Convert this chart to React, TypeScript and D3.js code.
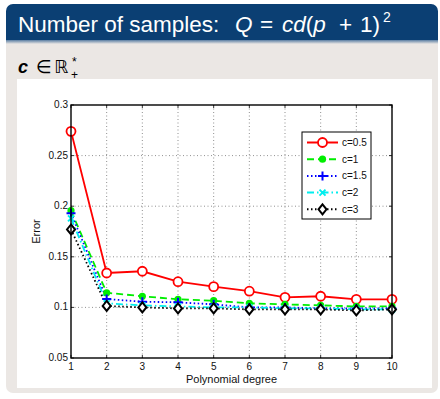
import React from "react";
import * as d3 from "d3";

const degrees = [1, 2, 3, 4, 5, 6, 7, 8, 9, 10];
const errC05 = [0.274, 0.134, 0.1357, 0.1254, 0.1205, 0.116, 0.110, 0.111, 0.108, 0.108];
const errC1 = [0.1956, 0.1145, 0.111, 0.108, 0.1066, 0.104, 0.103, 0.102, 0.101, 0.101];
const errC15 = [0.193, 0.1083, 0.1056, 0.105, 0.103, 0.1, 0.1, 0.099, 0.099, 0.099];
const errC2 = [0.188, 0.104, 0.102, 0.101, 0.1, 0.1, 0.099, 0.099, 0.098, 0.098];
const errC3 = [0.177, 0.1014, 0.1, 0.099, 0.099, 0.098, 0.098, 0.098, 0.097, 0.098];
const seriesNames = ["c=0.5", "c=1", "c=1.5", "c=2", "c=3"];
const yTicks = [0.05, 0.1, 0.15, 0.2, 0.25, 0.3];

const margin = { top: 105, right: 48, bottom: 41, left: 71 };
const W = 440;
const H = 399;

const styles = [
  { color: "#ff0000", dash: "", marker: "circle" },
  { color: "#00ee00", dash: "7,4", marker: "dot" },
  { color: "#0000ff", dash: "1.5,2.5", marker: "plus" },
  { color: "#00eeee", dash: "7,3,1.5,3", marker: "x" },
  { color: "#000000", dash: "1.5,2.5", marker: "diamond" },
];

function Marker({ kind, x, y, color }: { kind: string; x: number; y: number; color: string }) {
  if (kind === "circle")
    return <circle cx={x} cy={y} r={4.5} fill="white" stroke={color} strokeWidth={1.8} />;
  if (kind === "dot") return <circle cx={x} cy={y} r={3.6} fill={color} />;
  if (kind === "plus")
    return (
      <path d={`M${x - 4.5},${y}H${x + 4.5}M${x},${y - 4.5}V${y + 4.5}`} stroke={color} strokeWidth={2} />
    );
  if (kind === "x")
    return (
      <path d={`M${x - 3},${y - 3}L${x + 3},${y + 3}M${x - 3},${y + 3}L${x + 3},${y - 3}`} stroke={color} strokeWidth={2} />
    );
  return (
    <path d={`M${x},${y - 5}L${x + 4},${y}L${x},${y + 5}L${x - 4},${y}Z`} fill="white" stroke={color} strokeWidth={2} />
  );
}

export default function App() {
  const series = [errC05, errC1, errC15, errC2, errC3];
  const x = d3.scaleLinear().domain([1, 10]).range([margin.left, W - margin.right]);
  const y = d3.scaleLinear().domain([0.05, 0.3]).range([H - margin.bottom, margin.top]);
  const line = d3
    .line<number>()
    .x((_, i) => x(degrees[i]))
    .y((d) => y(d));
  const x0 = x(1), x1 = x(10), y0 = y(0.05), y1 = y(0.3);
  const font = "'Liberation Sans', Arial, sans-serif";
  const slideFont = "'Liberation Sans', 'DejaVu Sans', sans-serif";

  const legend = { x: 302, y: 132, w: 69, h: 87 };

  return (
    <svg width={W} height={H} style={{ position: "absolute", left: 0, top: 0 }}>
      <defs>
        <linearGradient id="shade" x1="0" y1="0" x2="0" y2="1">
          <stop offset="0" stopColor="#5a7ea3" />
          <stop offset="1" stopColor="#ebe7e4" />
        </linearGradient>
      </defs>
      <rect width={W} height={H} fill="white" />
      {/* gray block */}
      <rect x={6} y={30} width={432} height={363} rx={7} fill="#ebe7e4" />
      {/* title bar */}
      <path d="M6,40V11a7,7 0 0 1 7,-7H431a7,7 0 0 1 7,7V40Z" fill="#0b3f73" />
      <rect x={6} y={40} width={432} height={4} fill="url(#shade)" />
      <text y={32} fill="white" fontFamily={slideFont} fontSize={22.5}>
        <tspan x={18}>Number of samples:</tspan>
        <tspan x={235} fontStyle="italic">Q</tspan>
        <tspan x={260}>=</tspan>
        <tspan x={282} fontStyle="italic">cd</tspan>
        <tspan>(</tspan>
        <tspan fontStyle="italic">p</tspan>
        <tspan x={339}>+</tspan>
        <tspan x={360}>1)</tspan>
        <tspan x={383} dy={-10} fontSize={14}>2</tspan>
      </text>
      {/* subtitle */}
      <text y={73} fill="black" fontFamily={slideFont} fontSize={18}>
        <tspan x={18} fontStyle="italic" fontWeight="bold">c</tspan>
        <tspan x={36}>∈</tspan>
        <tspan x={54} fontFamily="'DejaVu Sans', serif">ℝ</tspan>
        <tspan x={72} dy={-7} fontSize={12}>*</tspan>
        <tspan x={71} dy={13} fontSize={12}>+</tspan>
      </text>
      {/* white panel */}
      <rect x={17} y={79} width={415} height={309} fill="white" />

      {/* grid */}
      <g stroke="#444" strokeWidth={0.6} strokeDasharray="1,2.5">
        {degrees.slice(1, -1).map((d) => (
          <line key={"gx" + d} x1={x(d)} x2={x(d)} y1={y1} y2={y0} />
        ))}
        {yTicks.slice(1, -1).map((t) => (
          <line key={"gy" + t} x1={x0} x2={x1} y1={y(t)} y2={y(t)} />
        ))}
      </g>
      {/* ticks */}
      <g stroke="black" strokeWidth={0.8}>
        {degrees.map((d) => (
          <g key={"tx" + d}>
            <line x1={x(d)} x2={x(d)} y1={y0} y2={y0 - 3} />
            <line x1={x(d)} x2={x(d)} y1={y1} y2={y1 + 3} />
          </g>
        ))}
        {yTicks.map((t) => (
          <g key={"ty" + t}>
            <line x1={x0} x2={x0 + 3} y1={y(t)} y2={y(t)} />
            <line x1={x1} x2={x1 - 3} y1={y(t)} y2={y(t)} />
          </g>
        ))}
      </g>

      {/* series */}
      {series.map((s, si) => (
        <path key={"l" + si} d={line(s) || ""} fill="none" stroke={styles[si].color} strokeWidth={1.8} strokeDasharray={styles[si].dash} />
      ))}
      {series.map((s, si) =>
        s.map((v, i) => (
          <Marker key={"m" + si + "-" + i} kind={styles[si].marker} x={x(degrees[i])} y={y(v)} color={styles[si].color} />
        ))
      )}

      {/* axes box */}
      <rect x={x0} y={y1} width={x1 - x0} height={y0 - y1} fill="none" stroke="black" strokeWidth={1.4} />

      {/* tick labels */}
      <g fontFamily={font} fontSize={10} fill="#111">
        {degrees.map((d) => (
          <text key={"lx" + d} x={x(d)} y={y0 + 12} textAnchor="middle">
            {d}
          </text>
        ))}
        {yTicks.map((t) => (
          <text key={"ly" + t} x={x0 - 3} y={y(t) + 3} textAnchor="end">
            {d3.format("~g")(t)}
          </text>
        ))}
        <text x={(x0 + x1) / 2} y={y0 + 25} textAnchor="middle" fontSize={11}>
          Polynomial degree
        </text>
        <text transform={`translate(40, ${(y0 + y1) / 2}) rotate(-90)`} textAnchor="middle" fontSize={11}>
          Error
        </text>
      </g>

      {/* legend */}
      <rect x={legend.x} y={legend.y} width={legend.w} height={legend.h} fill="white" stroke="black" strokeWidth={1} />
      {seriesNames.map((n, i) => {
        const ly = legend.y + 10.5 + i * 16.7;
        return (
          <g key={"lg" + n}>
            <line x1={legend.x + 5} x2={legend.x + 36} y1={ly} y2={ly} stroke={styles[i].color} strokeWidth={2} strokeDasharray={styles[i].dash} />
            <Marker kind={styles[i].marker} x={legend.x + 20.5} y={ly} color={styles[i].color} />
            <text x={legend.x + 40} y={ly + 3.5} fontFamily={font} fontSize={10} fill="#111">
              {n}
            </text>
          </g>
        );
      })}
    </svg>
  );
}
